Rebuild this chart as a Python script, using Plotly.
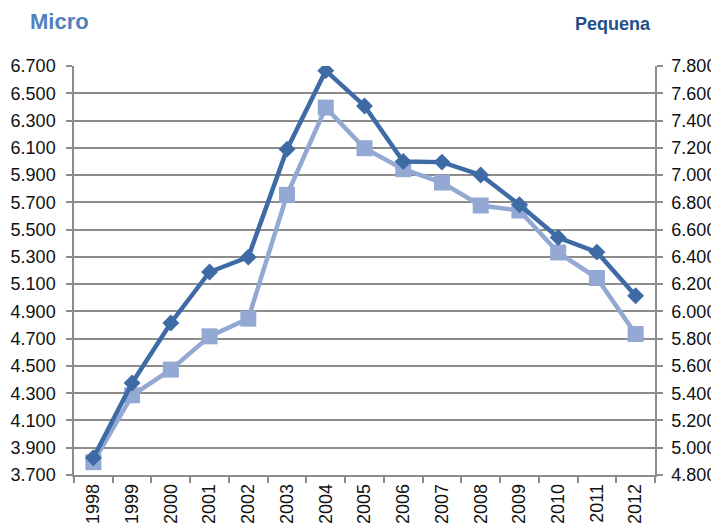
import plotly.graph_objects as go

years = ["1998", "1999", "2000", "2001", "2002", "2003", "2004", "2005",
         "2006", "2007", "2008", "2009", "2010", "2011", "2012"]
micro = [3794, 4285, 4473, 4717, 4847, 5755, 6395, 6097, 5943, 5845, 5677, 5640, 5332, 5145, 4734]
pequena = [4926, 5475, 5915, 6289, 6398, 7190, 7766, 7507, 7099, 7095, 7001, 6782, 6542, 6435, 6115]

left_ticks = list(range(3700, 6701, 200))
right_ticks = list(range(4800, 7801, 200))

# page body has an 8px margin, so the figure starts at (8, 8) in the window
OFF = 8
W, H = 719 - OFF, 526 - OFF
L, R, T, B = 74 - OFF, 64, 66 - OFF, 51
pw, ph = W - L - R, H - T - B

dark = "#3E6BA6"
light = "#93A8D2"
grid = "#8C8C8C"
font = "Liberation Sans, Arial, sans-serif"

fig = go.Figure()
fig.add_trace(go.Scatter(
    x=years, y=micro, mode="lines+markers", name="Micro",
    line=dict(color=light, width=4.5),
    marker=dict(symbol="square", size=16, color=light),
    yaxis="y"))
fig.add_trace(go.Scatter(
    x=years, y=pequena, mode="lines+markers", name="Pequena",
    line=dict(color=dark, width=4.5),
    marker=dict(symbol="diamond", size=13, color=dark),
    yaxis="y2"))

axis_common = dict(
    showline=True, linecolor=grid, linewidth=1.5,
    ticks="outside", ticklen=6, tickcolor=grid, tickwidth=1.5,
    tickfont=dict(family=font, size=18, color="#111111"),
    zeroline=False, automargin=False,
)

fig.update_layout(
    width=W, height=H,
    margin=dict(l=L, r=R, t=T, b=B),
    paper_bgcolor="white", plot_bgcolor="white",
    separators=",.",
    showlegend=False,
    xaxis=dict(
        type="category", tickson="boundaries", tickangle=-90,
        showgrid=False, range=[-0.5, 14.5],
        **axis_common,
    ),
    yaxis=dict(
        range=[3700, 6700], tickvals=left_ticks, tickformat=",d",
        showgrid=True, gridcolor=grid, gridwidth=1.5,
        ticklabelstandoff=7,
        **axis_common,
    ),
    yaxis2=dict(
        range=[4800, 7800], tickvals=right_ticks, tickformat=",d",
        overlaying="y", side="right", showgrid=False,
        ticklabelstandoff=5,
        **axis_common,
    ),
    annotations=[
        dict(text="<b>Micro</b>", xref="paper", yref="paper",
             x=(28 - 74) / pw, y=1 + (66 - 22) / ph, xanchor="left", yanchor="middle",
             showarrow=False, font=dict(family=font, size=22, color="#4F81BD")),
        dict(text="<b>Pequena</b>", xref="paper", yref="paper",
             x=(653 - 74) / pw, y=1 + (66 - 24) / ph, xanchor="right", yanchor="middle",
             showarrow=False, font=dict(family=font, size=18, color="#1F4E8A")),
    ],
)

fig.write_html("out.html")
